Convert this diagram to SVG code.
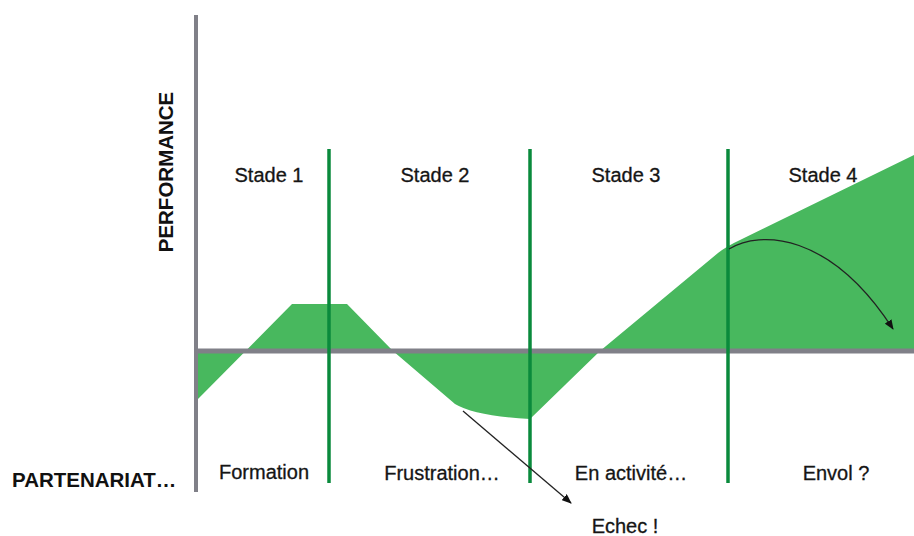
<svg xmlns="http://www.w3.org/2000/svg" width="914" height="536" viewBox="0 0 914 536">
<style>
.lbl{font-family:"Liberation Sans",Arial,sans-serif;font-size:20px;fill:#151515;stroke:#151515;stroke-width:0.3;text-anchor:middle}
.bold{font-family:"Liberation Sans",Arial,sans-serif;font-weight:bold;fill:#111}
.axis{stroke:#808088;fill:none}
.stage{stroke:#0a8a3c;stroke-width:3.5;fill:none}
.conn{stroke:#222;stroke-width:1.3;fill:none}
</style>
<defs>
<marker id="ah" markerWidth="10" markerHeight="8" refX="9" refY="4" orient="auto" markerUnits="userSpaceOnUse">
<path d="M0,0 L10,4 L0,8 Z" fill="#111"/>
</marker>
</defs>
<rect width="914" height="536" fill="#fff"/>
<g id="performance-area">
<path d="M197,351 L197,400 L292,304 L347,304 L393,351 L455,404 Q475,416 530,419 L600,351 L718,253 Q727,246 740,240 L914,155 L914,351 Z" fill="#48b85e"/>
</g>
<g id="axes">
<line class="axis" x1="196" y1="15" x2="196" y2="492" stroke-width="4"/>
<line class="axis" x1="196" y1="351" x2="914" y2="351" stroke-width="5"/>
</g>
<g id="stage-lines">
<line class="stage" x1="329" y1="149" x2="329" y2="483"/>
<line class="stage" x1="530" y1="149" x2="530" y2="483"/>
<line class="stage" x1="728" y1="149" x2="728" y2="483"/>
</g>
<g id="stade1"><text class="lbl" x="269" y="182">Stade 1</text><text class="lbl" x="264" y="479">Formation</text></g>
<g id="stade2"><text class="lbl" x="435" y="182">Stade 2</text><text class="lbl" x="442" y="480">Frustration…</text></g>
<g id="stade3"><text class="lbl" x="626" y="182">Stade 3</text><text class="lbl" x="631" y="480">En activité…</text></g>
<g id="stade4"><text class="lbl" x="823" y="182">Stade 4</text><text class="lbl" x="836" y="480">Envol ?</text></g>
<g id="echec"><text class="lbl" x="625" y="533">Echec !</text></g>
<g id="y-label"><text class="bold" font-size="20.5" transform="translate(173,172) rotate(-90)" text-anchor="middle">PERFORMANCE</text></g>
<g id="x-label"><text class="bold" font-size="20.5" x="12" y="487">PARTENARIAT…</text></g>
<g id="connectors">
<line class="conn" x1="463" y1="411" x2="571" y2="503" marker-end="url(#ah)"/>
<path class="conn" d="M729,249 C760,230 830,232 893,329" marker-end="url(#ah)"/>
</g>
</svg>
